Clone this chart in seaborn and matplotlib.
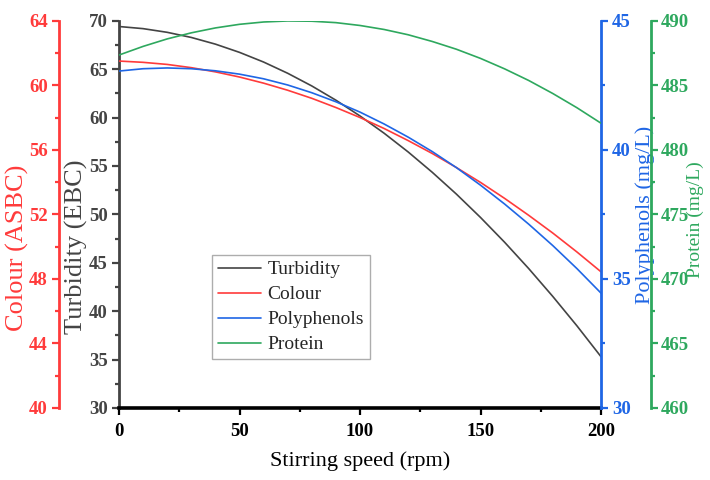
import numpy as np
import pandas as pd
import matplotlib
matplotlib.use("Agg")
import matplotlib.pyplot as plt
import seaborn as sns
from matplotlib.ticker import MultipleLocator

# ---- data ----
speed = [0, 10, 20, 30, 40, 50, 60, 70, 80, 90, 100,
         110, 120, 130, 140, 150, 160, 170, 180, 190, 200]
turbidity = [69.40, 69.18, 68.80, 68.27, 67.58, 66.73, 65.73, 64.57, 63.26, 61.79, 60.16,
             58.38, 56.44, 54.34, 52.09, 49.68, 47.12, 44.40, 41.52, 38.49, 35.30]
colour = [61.50, 61.42, 61.29, 61.09, 60.83, 60.51, 60.13, 59.69, 59.19, 58.62, 58.00,
          57.32, 56.57, 55.77, 54.90, 53.98, 52.99, 51.94, 50.84, 49.67, 48.44]
polyphenols = [43.05, 43.14, 43.17, 43.14, 43.06, 42.93, 42.75, 42.51, 42.21, 41.86, 41.46,
               41.00, 40.49, 39.93, 39.31, 38.63, 37.90, 37.12, 36.29, 35.40, 34.45]
protein = [487.34, 488.01, 488.59, 489.06, 489.44, 489.72, 489.90, 489.98, 489.96, 489.85, 489.63,
           489.32, 488.91, 488.39, 487.79, 487.08, 486.27, 485.37, 484.36, 483.26, 482.06]
series_names = ["Turbidity", "Colour", "Polyphenols", "Protein"]

C_TURB = "#444444"
C_COL = "#FF3B3B"
C_POLY = "#1F66E5"
C_PROT = "#2EA85E"

df = pd.DataFrame({"speed": speed, "Turbidity": turbidity, "Colour": colour,
                   "Polyphenols": polyphenols, "Protein": protein})

sns.set_theme(style="ticks")
plt.rcParams["font.family"] = ["Liberation Serif", "DejaVu Serif"]

W, H = 710, 480
fig = plt.figure(figsize=(W / 100, H / 100), dpi=100)
L, R, T, B = 119, 601, 20.7, 408
ax = fig.add_axes([L / W, 1 - B / H, (R - L) / W, (B - T) / H])
ax_col = ax.twinx()
ax_poly = ax.twinx()
ax_prot = ax.twinx()

lw = 1.2
sns.lineplot(data=df, x="speed", y="Turbidity", ax=ax, color=C_TURB, lw=lw)
sns.lineplot(data=df, x="speed", y="Colour", ax=ax_col, color=C_COL, lw=lw)
sns.lineplot(data=df, x="speed", y="Polyphenols", ax=ax_poly, color=C_POLY, lw=lw)
sns.lineplot(data=df, x="speed", y="Protein", ax=ax_prot, color=C_PROT, lw=lw)

ax.set_xlim(0, 200)
ax.set_ylim(30, 70)
ax_col.set_ylim(40, 64)
ax_poly.set_ylim(30, 45)
ax_prot.set_ylim(460, 490)

# spines
for a in (ax, ax_col, ax_poly, ax_prot):
    for s in a.spines.values():
        s.set_visible(False)
ax.spines["left"].set_visible(True)
ax.spines["left"].set_color(C_TURB)
ax.spines["left"].set_linewidth(2.0)
ax.spines["bottom"].set_visible(True)
ax.spines["bottom"].set_color("black")
ax.spines["bottom"].set_linewidth(2.6)

ax_col.yaxis.set_ticks_position("left")
ax_col.yaxis.set_label_position("left")
ax_col.spines["left"].set_visible(True)
ax_col.spines["left"].set_position(("axes", (59 - L) / (R - L)))
ax_col.spines["left"].set_color(C_COL)
ax_col.spines["left"].set_linewidth(2.0)

ax_poly.spines["right"].set_visible(True)
ax_poly.spines["right"].set_color(C_POLY)
ax_poly.spines["right"].set_linewidth(2.0)

ax_prot.spines["right"].set_visible(True)
ax_prot.spines["right"].set_position(("axes", (651 - L) / (R - L)))
ax_prot.spines["right"].set_color(C_PROT)
ax_prot.spines["right"].set_linewidth(2.0)

# ticks
ax.xaxis.set_major_locator(MultipleLocator(50))
ax.xaxis.set_minor_locator(MultipleLocator(25))
ax.yaxis.set_major_locator(MultipleLocator(5))
ax.yaxis.set_minor_locator(MultipleLocator(2.5))
ax_col.yaxis.set_major_locator(MultipleLocator(4))
ax_col.yaxis.set_minor_locator(MultipleLocator(2))
ax_poly.yaxis.set_major_locator(MultipleLocator(5))
ax_poly.yaxis.set_minor_locator(MultipleLocator(2.5))
ax_prot.yaxis.set_major_locator(MultipleLocator(5))
ax_prot.yaxis.set_minor_locator(MultipleLocator(2.5))

tick_fs = 13.5
ax.tick_params(axis="x", which="both", direction="out", colors="black", width=1.6,
               labelsize=tick_fs, pad=6)
ax.tick_params(axis="x", which="major", length=5)
ax.tick_params(axis="x", which="minor", length=3)
for a, c, pad in ((ax, C_TURB, 3), (ax_col, C_COL, 3),
                  (ax_poly, C_POLY, 3), (ax_prot, C_PROT, 2)):
    a.tick_params(axis="y", which="both", direction="out", color=c, labelcolor=c,
                  width=1.6, labelsize=tick_fs, pad=pad)
    a.tick_params(axis="y", which="major", length=5)
    a.tick_params(axis="y", which="minor", length=3)
for a in (ax, ax_col, ax_poly, ax_prot):
    for lab in a.get_xticklabels() + a.get_yticklabels():
        lab.set_fontweight("bold")

# labels
ax.set_xlabel("Stirring speed (rpm)", fontsize=16, color="black")
ax.xaxis.set_label_coords(0.5, 1 - (451 - T) / (B - T))
ax.set_ylabel("Turbidity (EBC)", fontsize=19, color=C_TURB)
ax.yaxis.set_label_coords((88 - L) / (R - L), 1 - (247 - T) / (B - T))
ax_col.set_ylabel("Colour (ASBC)", fontsize=19, color=C_COL)
ax_col.yaxis.set_label_coords((29 - L) / (R - L), 1 - (248 - T) / (B - T))
ax_poly.set_ylabel("Polyphenols (mg/L)", fontsize=16, color=C_POLY)
ax_poly.yaxis.set_label_coords((635 - L) / (R - L), 1 - (215 - T) / (B - T))
ax_prot.set_ylabel("Protein (mg/L)", fontsize=14, color=C_PROT)
ax_prot.yaxis.set_label_coords((687 - L) / (R - L), 1 - (220 - T) / (B - T))

for a in (ax, ax_col, ax_poly, ax_prot):
    a.grid(False)

handles = [ax.lines[0], ax_col.lines[0], ax_poly.lines[0], ax_prot.lines[0]]
leg = ax_prot.legend(handles, series_names, loc="upper left",
                     bbox_to_anchor=((212 - L) / (R - L), 1 - (255 - T) / (B - T)),
                     fontsize=14, frameon=True, fancybox=False, handlelength=2.2,
                     handletextpad=0.35, labelspacing=0.38, borderpad=0.3,
                     borderaxespad=0)
leg.get_frame().set_edgecolor("#999999")
leg.get_frame().set_linewidth(1.0)

fig.savefig("out.png", dpi=100)
